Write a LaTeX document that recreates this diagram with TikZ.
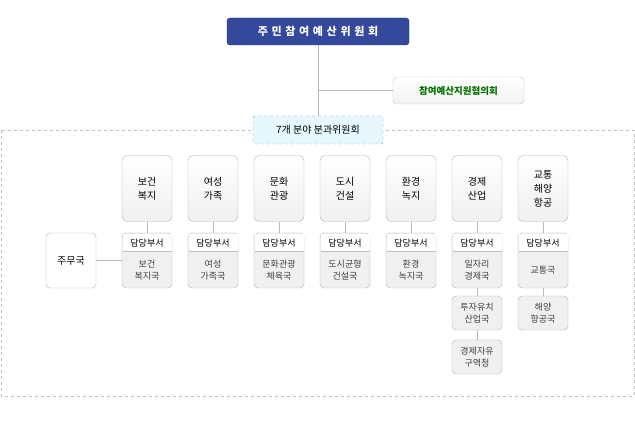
\documentclass[tikz,border=0pt]{standalone}
\usepackage{fontspec}
\newfontfamily\kr{Noto Sans CJK KR}
\definecolor{titleblue}{HTML}{34489C}
\begin{document}
\begin{tikzpicture}[x=1pt,y=-1pt,font=\kr\fontsize{9}{12}\selectfont,
  line/.style={draw=gray!55,line width=0.7pt},
  topbox/.style={draw=gray!60,rounded corners=5pt,top color=white,bottom color=gray!12,minimum width=50pt,minimum height=66pt,align=center,font=\kr\fontsize{10}{14}\selectfont},
  dept/.style={draw=gray!60,rounded corners=4pt,fill=gray!12,minimum width=50pt,minimum height=34pt,align=center,text=black!75},
  hdr/.style={fill=white,minimum width=49pt,minimum height=17pt,inner sep=0pt}]
\useasboundingbox (0,0) rectangle (635,430);
\draw[gray!50,dashed] (1,130) rectangle (634,396);
\node[draw=titleblue!70!black,fill=titleblue,rounded corners=3pt,minimum width=182pt,minimum height=27pt,text=white,font=\kr\bfseries\fontsize{11}{13}\selectfont] (top) at (318,31.5) {주\,\,민\,\,참\,\,여\,\,예\,\,산\,\,위\,\,원\,\,회};
\node[draw=gray!50,rounded corners=4pt,top color=white,bottom color=gray!10,minimum width=131pt,minimum height=27pt,text=green!45!black,font=\kr\bfseries\fontsize{9.5}{11}\selectfont] (sup) at (458.5,90.5) {참여예산지원협의회};
\node[draw=cyan!40!gray,dashed,fill=cyan!10,rounded corners=2pt,minimum width=130pt,minimum height=28pt,font=\kr\fontsize{10}{12}\selectfont] (sub) at (318,130) {7개 분야 분과위원회};
\path[line] (top.south) -- (sub.north);
\coordinate (j) at (318,90.5);
\path[line] (j) -- (sup.west);
\node[draw=gray!60,rounded corners=4pt,fill=white,minimum width=50pt,minimum height=55pt,font=\kr\fontsize{10}{12}\selectfont] (zm) at (71,260.5) {주무국};
\foreach \i/\x/\t/\d in {1/147/보건\\복지/보건\\복지국, 2/213/여성\\가족/여성\\가족국, 3/279/문화\\관광/문화관광\\체육국, 4/345/도시\\건설/도시균형\\건설국, 5/411/환경\\녹지/환경\\녹지국, 6/477/경제\\산업/일자리\\경제국, 7/543/교통\\해양\\항공/교통국}{
  \node[topbox] (t\i) at (\x,188.5) {\t};
  \node[draw=gray!60,rounded corners=4pt,fill=gray!12,minimum width=50pt,minimum height=55pt] (b\i) at (\x,260.5) {};
  \node[hdr] (h\i) at (\x,243) {담당부서};
  \draw[gray!50] ([xshift=-24.5pt]h\i.south) -- ([xshift=24.5pt]h\i.south);
  \node[align=center,text=black!75] (d\i) at (\x,270) {\d};
  \path[line] (t\i.south) -- (b\i.north);
}
\path[line] (zm.east) -- (b1.west);
\node[dept] (e1) at (477,313) {투자유치\\산업국};
\node[dept] (e2) at (477,357) {경제자유\\구역청};
\node[dept] (e3) at (543,313) {해양\\항공국};
\path[line] (b6.south) -- (e1.north);
\path[line] (e1.south) -- (e2.north);
\path[line] (b7.south) -- (e3.north);
\end{tikzpicture}
\end{document}
